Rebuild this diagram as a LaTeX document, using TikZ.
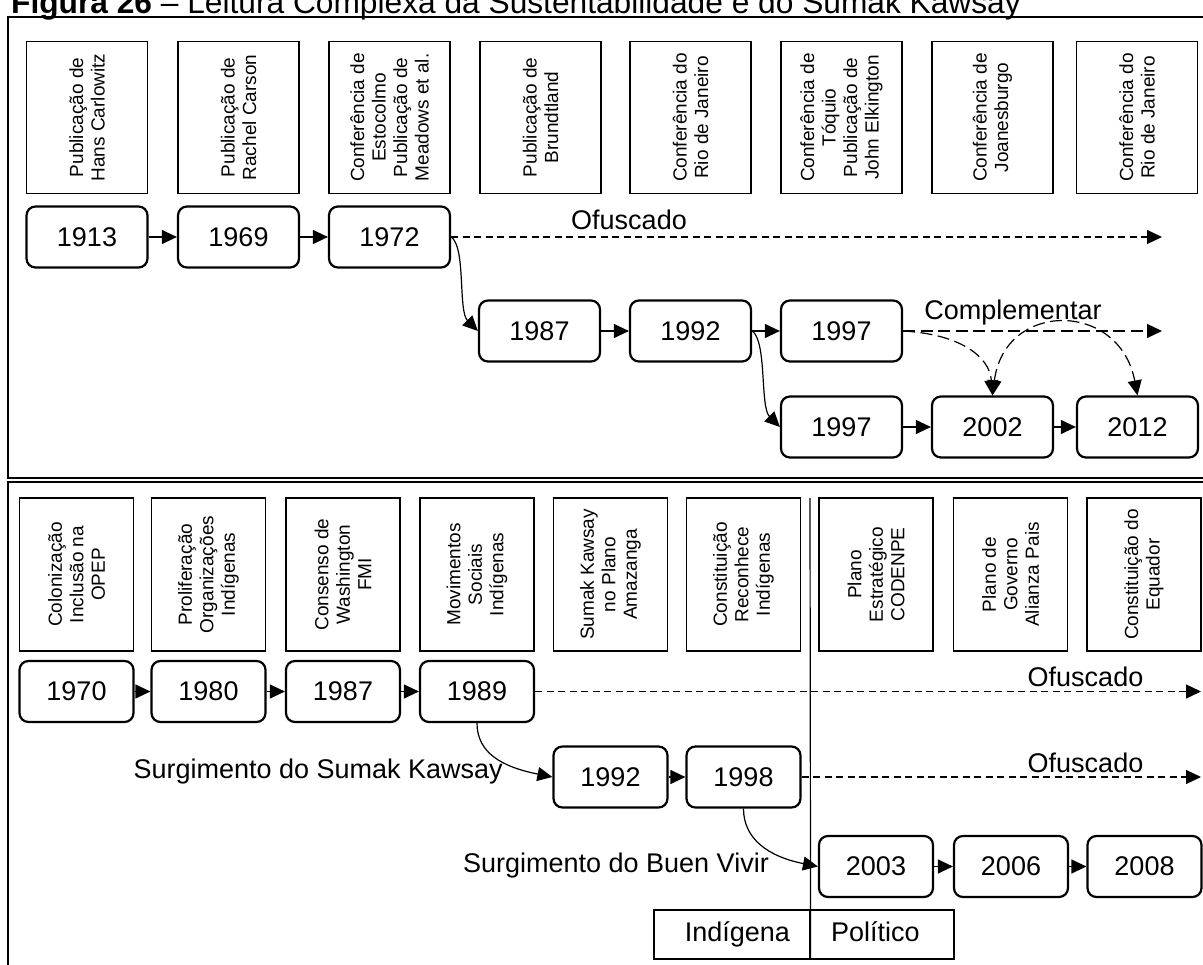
\documentclass[tikz,border=0pt]{standalone}
\usepackage{fontspec}
\setmainfont{Liberation Sans}
\usetikzlibrary{arrows.meta}

\begin{document}
\begin{tikzpicture}[x=1pt,y=-1pt,>={Triangle[length=15pt,width=14pt]},
  year/.style={draw,line width=2.2pt,rounded corners=9pt,minimum width=121pt,minimum height=61pt,inner sep=0pt,font=\fontsize{27}{31}\selectfont},
  yearb/.style={year,minimum width=114pt},
  event/.style={draw,line width=1.2pt,rotate=90,minimum width=152pt,minimum height=121pt,inner sep=0pt,align=center,font=\fontsize{19}{21.5}\selectfont},
  eventb/.style={event,minimum width=153pt,minimum height=114pt},
  flow/.style={->,line width=1.2pt},
  dim/.style={->,line width=1.2pt,dash pattern=on 7pt off 4.5pt},
  compl/.style={->,line width=1.2pt,dash pattern=on 12pt off 5.5pt},
  lbl/.style={inner sep=0pt,font=\fontsize{27}{31}\selectfont},
  cell/.style={draw,line width=1.2pt,minimum height=49pt,inner ysep=0pt,text height=19pt,text depth=6pt,font=\fontsize{27}{31}\selectfont}]
\useasboundingbox (0,0) rectangle (1203,965);
\node[anchor=base west,inner sep=0pt,font=\fontsize{31.7}{36}\selectfont] (title) at (11,14)
  {\textbf{Figura 26} -- Leitura Complexa da Sustentabilidade e do Sumak Kawsay};
% frames
\draw[line width=2pt] (1215,17) -- (8,17) -- (8,478) -- (1215,478);
\draw[line width=2pt] (1215,482.5) -- (8,482.5) -- (8,980);

% sustentabilidade
\node[event] (e1) at (87,117.5) {Publicação de\\Hans Carlowitz};
\node[event] (e2) at (238.5,117.5) {Publicação de\\Rachel Carson};
\node[event] (e3) at (389.5,117.5) {Conferência de\\Estocolmo\\Publicação de\\Meadows et al.};
\node[event] (e4) at (540.5,117.5) {Publicação de\\Brundtland};
\node[event] (e5) at (690.5,117.5) {Conferência do\\Rio de Janeiro};
\node[event] (e6) at (841.5,117.5) {Conferência de\\Tóquio\\Publicação de\\John Elkington};
\node[event] (e7) at (992.5,117.5) {Conferência de\\Joanesburgo};
\node[event] (e8) at (1137,117.5) {Conferência do\\Rio de Janeiro};

\node[year] (y1913) at (87,237) {1913};
\node[year] (y1969) at (238.5,237) {1969};
\node[year] (y1972) at (389.5,237) {1972};
\node[year] (y1987) at (539.5,331) {1987};
\node[year] (y1992) at (690.5,331) {1992};
\node[year] (y1997a) at (841.5,331) {1997};
\node[year] (y1997b) at (841.5,427) {1997};
\node[year] (y2002) at (992.5,427) {2002};
\node[year] (y2012) at (1137.5,427) {2012};
\coordinate (endA) at (1162,237);
\coordinate (endB) at (1162,331);
\node[lbl] (ofA) at (629,220) {Ofuscado};
\node[lbl] (compl) at (1013,313) {Complementar};

\draw[flow] (y1913) -- (y1969);
\draw[flow] (y1969) -- (y1972);
\draw[dim] (y1972) -- (endA);
\draw[flow] (y1972.east) .. controls +(15,10) and +(-20,-20) .. (y1987.west);
\draw[flow] (y1987) -- (y1992);
\draw[flow] (y1992) -- (y1997a);
\draw[compl] (y1997a) -- (endB);
\draw[compl] (y1997a.east) .. controls +(55,3) and +(-3,-40) .. (y2002.north);
\draw[compl,<->] (y2002.north) .. controls +(12,-95) and +(-18,-95) .. (y2012.north);
\draw[flow] (y1992.east) .. controls +(15,10) and +(-20,-20) .. (y1997b.west);
\draw[flow] (y1997b) -- (y2002);
\draw[flow] (y2002) -- (y2012);

% sumak kawsay
\node[eventb] (f1) at (76.5,574.5) {Colonização\\Inclusão na\\OPEP};
\node[eventb] (f2) at (208.5,574.5) {Proliferação\\Organizações\\Indígenas};
\node[eventb] (f3) at (343,574.5) {Consenso de\\Washington\\FMI};
\node[eventb] (f4) at (477,574.5) {Movimentos\\Sociais\\Indígenas};
\node[eventb] (f5) at (610.5,574.5) {Sumak Kawsay\\no Plano\\Amazanga};
\node[eventb] (f6) at (743.5,574.5) {Constituição\\Reconhece\\Indígenas};
\node[eventb] (f7) at (876,574.5) {Plano\\Estratégico\\CODENPE};
\node[eventb] (f8) at (1010.5,574.5) {Plano de\\Governo\\Alianza Pais};
\node[eventb] (f9) at (1144,574.5) {Constituição do\\Equador};

\node[yearb] (y1970) at (76.5,691.5) {1970};
\node[yearb] (y1980) at (208.5,691.5) {1980};
\node[yearb] (y1987b) at (343,691.5) {1987};
\node[yearb] (y1989) at (477,691.5) {1989};
\node[yearb] (y1992b) at (610.5,777) {1992};
\node[yearb] (y1998) at (743.5,777) {1998};
\node[yearb] (y2003) at (876,866.5) {2003};
\node[yearb] (y2006) at (1011,866.5) {2006};
\node[yearb] (y2008) at (1144.5,866.5) {2008};
\coordinate (endC) at (1201,691.5);
\coordinate (endD) at (1201,777);
\node[lbl] (ofC) at (1085.5,677) {Ofuscado};
\node[lbl] (ofD) at (1085.5,763) {Ofuscado};
\node[lbl,anchor=east] (sumak) at (503,772) {Surgimento do Sumak Kawsay};
\node[lbl,anchor=east] (buen) at (769,866) {Surgimento do Buen Vivir};

\draw[flow] (y1970) -- (y1980);
\draw[flow] (y1980) -- (y1987b);
\draw[flow] (y1987b) -- (y1989);
\draw[dim] (y1989) -- (endC);
\draw[flow] (y1989.south) .. controls +(0,30) and +(-50,-10) .. (y1992b.west);
\draw[flow] (y1992b) -- (y1998);
\draw[dim] (y1998) -- (endD);
\draw[flow] (y1998.south) .. controls +(0,30) and +(-50,-10) .. (y2003.west);
\draw[flow] (y2003) -- (y2006);
\draw[flow] (y2006) -- (y2008);

% indigena / politico
\node[cell,text width=116pt,inner xsep=20pt,align=right] (indig) at (732,934.5) {Indígena};
\node[cell,text width=102pt,inner xsep=21pt,align=left] (polit) at (882,934.5) {Político};
\coordinate (divtop) at (810,498);
\draw[line width=1.2pt] (divtop) -- (indig.south east);
\end{tikzpicture}
\end{document}
